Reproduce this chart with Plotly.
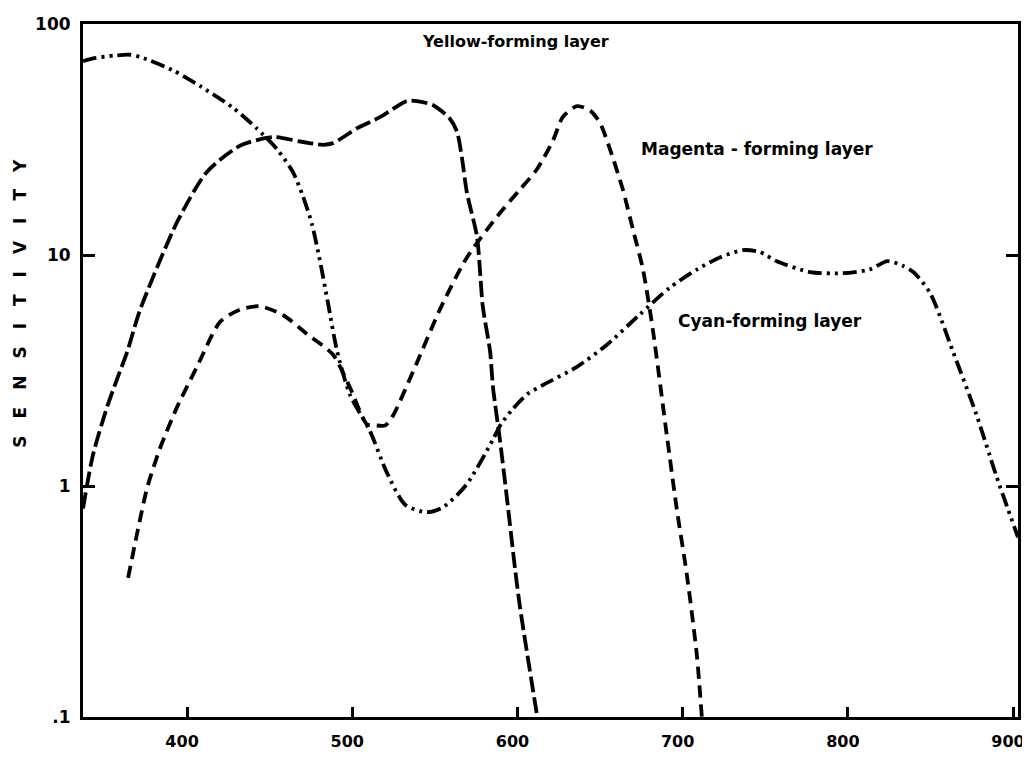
import math
import plotly.graph_objects as go

# Wavelength (nm) and relative sensitivity
cyan_nm = [337, 343, 356, 365.5, 372, 391.5, 408, 428, 442, 454.5, 464, 470, 475.6,
           480.5, 485.3, 490.8, 498.6, 510.7, 521, 532, 545, 555, 569, 585, 590,
           597, 606, 616, 636, 654, 674, 692, 708.6, 722.5, 736.5, 746.7, 757,
           777, 797, 813, 824, 833, 840, 850, 863.5, 878, 890, 903]
cyan_val = [69, 71, 73, 73.6, 71.8, 63, 53.8, 43.3, 35.4, 28.7, 22.9, 18.1, 13.6,
            9.4, 6.2, 3.84, 2.48, 1.73, 1.14, 0.83, 0.77, 0.81, 1.01, 1.58, 1.85,
            2.15, 2.5, 2.75, 3.28, 4.08, 5.52, 7.2, 8.65, 9.76, 10.5, 10.3, 9.4,
            8.44, 8.34, 8.65, 9.4, 9.0, 8.4, 6.8, 3.84, 2.02, 1.1, 0.6]

yellow_nm = [337, 343, 351.6, 357.6, 363.7, 371.6, 394, 412, 432, 452, 468.4, 482.3,
             488.4, 503, 517, 533, 539, 549, 559, 563.4, 566.4, 569.4, 575.5, 579,
             583.4, 585.2, 589.4, 593.6, 598.5, 601.5, 612]
yellow_val = [0.8, 1.36, 2.2, 2.9, 3.8, 5.8, 13.9, 22.9, 29.7, 32.4, 31.0, 30.0,
              30.5, 35.4, 39.6, 46.4, 46.4, 44.5, 39.0, 34.2, 26.3, 18.6, 12.0, 6.0,
              3.84, 2.67, 1.58, 0.89, 0.44, 0.30, 0.1]

magenta_nm = [364.3, 369.7, 375.8, 383.7, 394, 406, 420, 432, 444, 458, 472.6, 488.4,
              498.6, 508.9, 514, 520, 524.7, 539, 553, 569.4, 589.4, 601.5, 611.8,
              621.5, 627.5, 636, 644, 650, 656, 663.8, 670, 676, 682, 690.5, 696.5,
              702.6, 708.6, 711.6]
magenta_val = [0.40, 0.62, 0.98, 1.46, 2.2, 3.28, 5.14, 5.8, 6.0, 5.5, 4.55, 3.7,
               2.67, 1.85, 1.83, 1.83, 2.02, 3.4, 5.8, 9.76, 15.2, 19.2, 23.5,
               31.3, 39.6, 44.1, 42.2, 37.3, 28.7, 19.2, 12.8, 8.65, 4.72, 1.64, 0.79,
               0.41, 0.185, 0.1]

x_ticks = [400, 500, 600, 700, 800, 900]
y_ticks = [0.1, 1, 10, 100]
y_tick_text = [".1", "1", "10", "100"]

FONT = "DejaVu Sans"

fig = go.Figure()
fig.add_trace(go.Scatter(x=cyan_nm, y=cyan_val, mode="lines", name="Cyan-forming layer",
                         line=dict(color="black", width=3.8, shape="spline", smoothing=0.7,
                                   dash="14px,5px,3px,5px,3px,5px")))
fig.add_trace(go.Scatter(x=yellow_nm, y=yellow_val, mode="lines", name="Yellow-forming layer",
                         line=dict(color="black", width=3.8, shape="spline", smoothing=0.7,
                                   dash="16px,5px")))
fig.add_trace(go.Scatter(x=magenta_nm, y=magenta_val, mode="lines", name="Magenta-forming layer",
                         line=dict(color="black", width=3.8, shape="spline", smoothing=0.7,
                                   dash="12px,7px")))

fig.add_annotation(x=599, y=math.log10(84), xref="x", yref="y", text="Yellow-forming layer",
                   showarrow=False, font=dict(family=FONT, size=16, color="black", weight="bold"))
fig.add_annotation(x=745, y=math.log10(28.7), xref="x", yref="y", text="Magenta - forming layer",
                   showarrow=False, font=dict(family=FONT, size=17, color="black", weight="bold"))
fig.add_annotation(x=753, y=math.log10(5.2), xref="x", yref="y", text="Cyan-forming layer",
                   showarrow=False, font=dict(family=FONT, size=17, color="black", weight="bold"))
fig.add_annotation(x=-0.067, y=0.597, xref="paper", yref="paper", xanchor="center", yanchor="middle",
                   text="\u2003".join("SENSITIVITY"), textangle=-90, showarrow=False,
                   font=dict(family=FONT, size=17, color="black", weight="bold"))

# the page body has an 8px default margin, so the figure is 8px smaller and the
# left/top margins are reduced by 8px to keep the plot frame where the reference has it
fig.update_layout(
    width=1022, height=750,
    margin=dict(l=75, r=12, t=16, b=41, autoexpand=False),
    paper_bgcolor="white", plot_bgcolor="white",
    showlegend=False,
    xaxis=dict(range=[337, 903], tickvals=x_ticks, ticks="inside", ticklen=10, tickwidth=2.5,
               tickcolor="black", showline=True, linecolor="black", linewidth=3, mirror=True,
               showgrid=False, zeroline=False, ticklabelstandoff=8, automargin=False,
               ticklabeloverflow="allow", ticklabelshift=-5,
               tickfont=dict(family=FONT, size=16, color="black", weight="bold")),
    yaxis=dict(type="log", range=[-1, 2], tickvals=y_ticks, ticktext=y_tick_text,
               ticks="inside", ticklen=12, tickwidth=2.5, tickcolor="black",
               showline=True, linecolor="black", linewidth=3, mirror="ticks",
               showgrid=False, zeroline=False, ticklabelstandoff=6, automargin=False,
               tickfont=dict(family=FONT, size=17, color="black", weight="bold")),
)

fig.write_html("out.html")
